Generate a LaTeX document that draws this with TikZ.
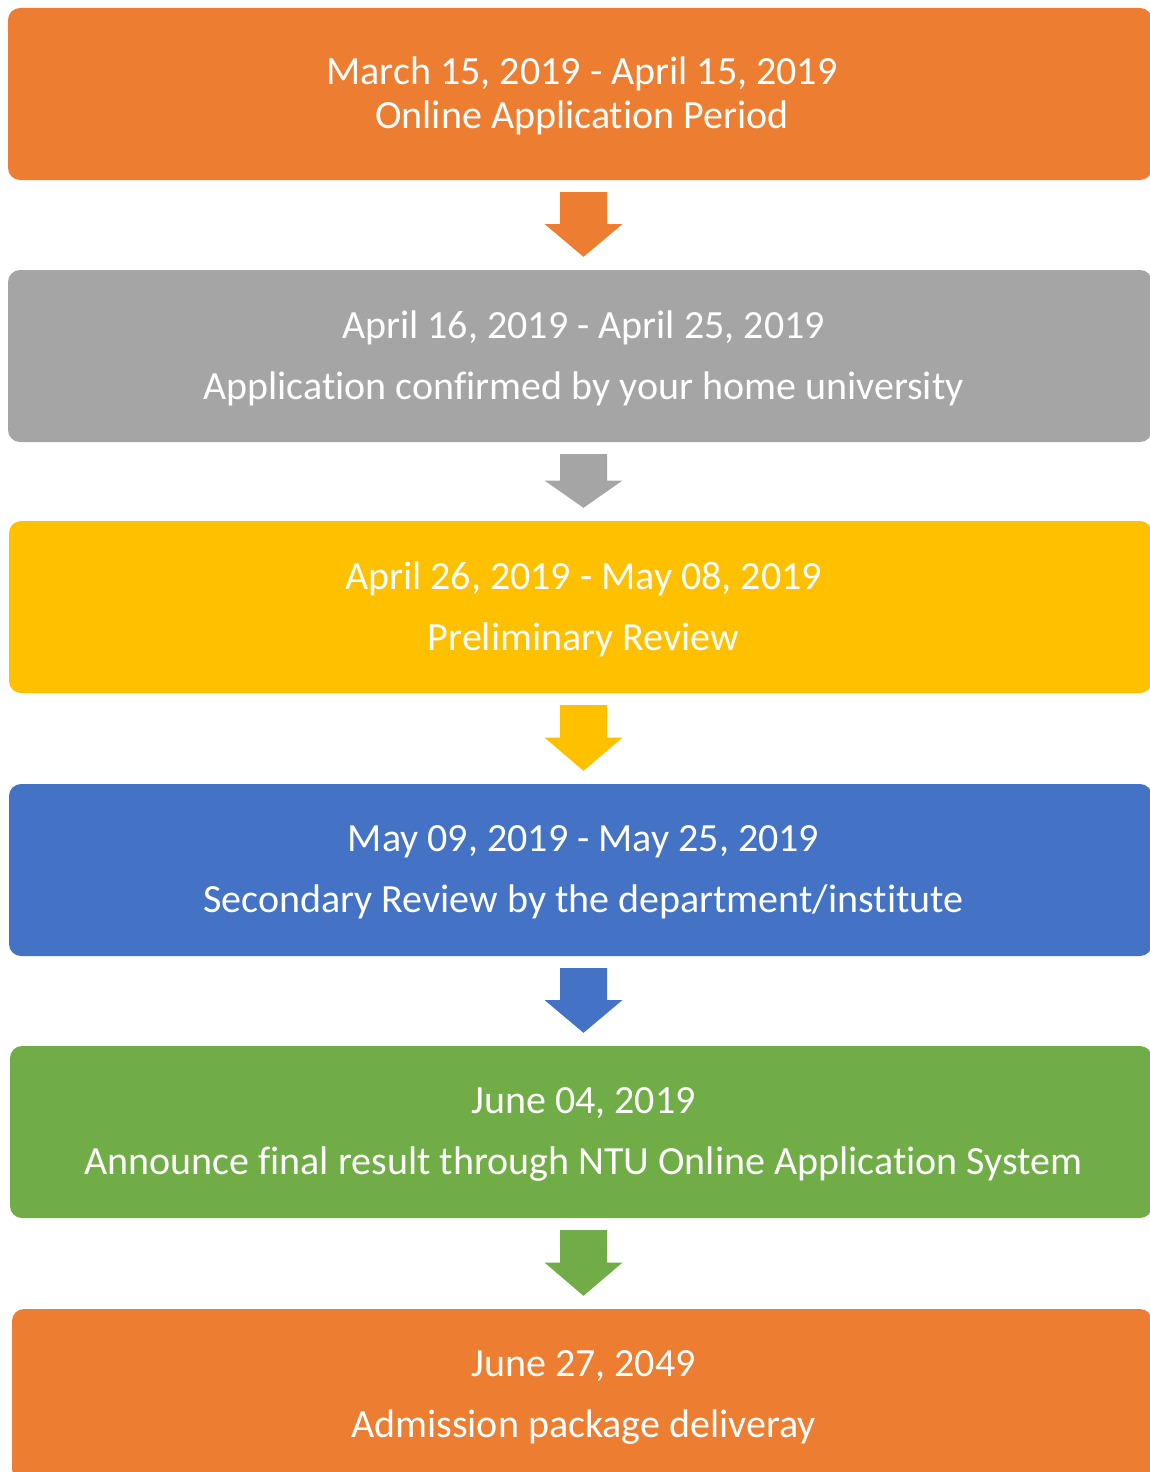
\documentclass[tikz,border=0pt]{standalone}
\usepackage{fontspec}
\setmainfont{Carlito}[Ligatures={NoCommon}]
\usetikzlibrary{calc}
\definecolor{corange}{HTML}{ED7D31}
\definecolor{cgray}{HTML}{A5A5A5}
\definecolor{cgold}{HTML}{FFC000}
\definecolor{cblue}{HTML}{4472C4}
\definecolor{cgreen}{HTML}{70AD47}
\tikzset{
  stagebox/.style={rectangle, rounded corners=12pt, inner sep=0pt,
    minimum height=172pt},
  stagetext/.style={text=white, align=center, inner sep=0pt, yshift=-2.5pt, font=\fontsize{40}{61}\selectfont},
}
\newcommand\blockarrow[3]{%
  \fill[#3] let \p1=(#1.south), \p2=(#2.north), \n1={(\y1+\y2)/2} in
    ({583.5pt-23.5pt},{\y1-12pt}) -- ({583.5pt+23.5pt},{\y1-12pt}) -- ({583.5pt+23.5pt},{\n1+1pt})
    -- ({583.5pt+39pt},{\n1+1pt}) -- ({583.5pt},{\y2+13pt}) -- ({583.5pt-39pt},{\n1+1pt})
    -- ({583.5pt-23.5pt},{\n1+1pt}) -- cycle;}
\begin{document}
\begin{tikzpicture}[x=1pt,y=-1pt]
\clip (0,0) rectangle (1150,1472);
\fill[white] (0,0) rectangle (1150,1472);
\node[stagebox, fill=corange, minimum width=1144pt,
  label={[stagetext, xshift=2pt, yshift=1pt, font=\fontsize{40}{44}\selectfont]center:March 15, 2019 - April 15, 2019\\Online Application Period}] (b1) at (580,94) {};
\node[stagebox, fill=cgray, minimum width=1144pt,
  label={[stagetext, xshift=3.5pt]center:April 16, 2019 - April 25, 2019\\Application confirmed by your home university}] (b2) at (580,356) {};
\node[stagebox, fill=cgold, minimum width=1143pt,
  label={[stagetext, xshift=3pt]center:April 26, 2019 - May 08, 2019\\Preliminary Review}] (b3) at (580.5,607) {};
\node[stagebox, fill=cblue, minimum width=1143pt,
  label={[stagetext, xshift=3pt]center:May 09, 2019 - May 25, 2019\\Secondary Review by the department/institute}] (b4) at (580.5,870) {};
\node[stagebox, fill=cgreen, minimum width=1142pt,
  label={[stagetext, xshift=2.5pt]center:June 04, 2019\\Announce final result through NTU Online Application System}] (b5) at (581,1132) {};
\node[stagebox, fill=corange, minimum width=1140pt,
  label={[stagetext, xshift=1.5pt]center:June 27, 2049\\Admission package deliveray}] (b6) at (582,1395) {};
\blockarrow{b1}{b2}{corange}
\blockarrow{b2}{b3}{cgray}
\blockarrow{b3}{b4}{cgold}
\blockarrow{b4}{b5}{cblue}
\blockarrow{b5}{b6}{cgreen}
\end{tikzpicture}
\end{document}
